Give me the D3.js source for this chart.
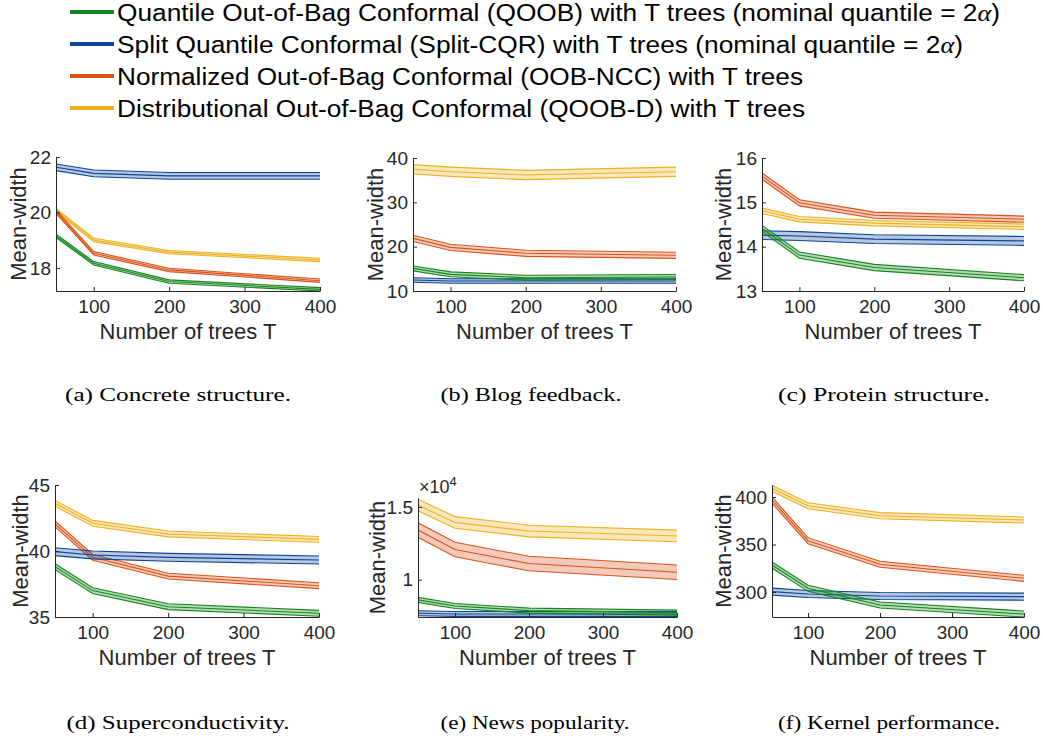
<!DOCTYPE html>
<html><head><meta charset="utf-8">
<script src="https://cdn.jsdelivr.net/npm/d3@7"></script>
<style>body{margin:0;background:#fff}svg{display:block}</style>
</head><body>
<svg id="chart" width="1043" height="736"></svg>
<script>
// ---------- data ----------
const trees = [50, 100, 200, 400];
const xTicks = [100, 200, 300, 400];
const methodColors = ["#14861c", "#0d4696", "#d95319", "#edb120"]; // QOOB, Split-CQR, OOB-NCC, QOOB-D
const legendLabels = [
  "Quantile Out-of-Bag Conformal (QOOB) with T trees (nominal quantile = 2",
  "Split Quantile Conformal (Split-CQR) with T trees (nominal quantile = 2",
  "Normalized Out-of-Bag Conformal (OOB-NCC) with T trees",
  "Distributional Out-of-Bag Conformal (QOOB-D) with T trees"
];
const legendHasAlpha = [true, true, false, false];
const captions = ["(a) Concrete structure.", "(b) Blog feedback.", "(c) Protein structure.",
                  "(d) Superconductivity.", "(e) News popularity.", "(f) Kernel performance."];

// mean widths per method: [QOOB, Split-CQR, OOB-NCC, QOOB-D]
const concreteMean = [[19.16, 18.17, 17.51, 17.23], [21.63, 21.41, 21.32, 21.32], [20.03, 18.53, 17.93, 17.54], [20.09, 19.01, 18.57, 18.29]];
const concreteHalf = [0.06, 0.12, 0.06, 0.06];
const blogMean = [[15.1, 13.76, 13.0, 13.16], [12.48, 12.26, 12.26, 12.26], [21.88, 19.85, 18.5, 18.05], [37.45, 36.9, 36.17, 36.9]];
const blogHalf = [0.55, 0.5, 0.7, 1.05];
const proteinMean = [[14.41, 13.81, 13.53, 13.3], [14.26, 14.24, 14.17, 14.13], [15.59, 14.99, 14.71, 14.62], [14.81, 14.62, 14.53, 14.45]];
const proteinHalf = [0.07, 0.1, 0.07, 0.06];
const superMean = [[38.81, 37.0, 35.78, 35.28], [39.95, 39.7, 39.52, 39.32], [42.05, 39.52, 38.1, 37.37], [43.61, 42.1, 41.29, 40.88]];
const superHalf = [0.22, 0.3, 0.22, 0.22];
const newsMean = [[8610, 8190, 7870, 7730], [7690, 7640, 7640, 7640], [13420, 12080, 11110, 10510], [15140, 13940, 13350, 13010]];
const newsHalf = [170, 170, 500, 400];
const kernelMean = [[328.4, 303.9, 286.3, 276.8], [300.4, 297.9, 295.8, 295.1], [396.8, 354.0, 329.2, 314.4], [409.1, 390.8, 380.3, 375.8]];
const kernelHalf = [3.2, 3.7, 3.2, 3.2];

const yTicksList = [[18, 20, 22], [10, 20, 30, 40], [13, 14, 15, 16], [35, 40, 45], [10000, 15000], [300, 350, 400]];
const yDomains = [[17.17, 22], [10, 40], [13, 16], [35, 45], [7430, 15625], [273.7, 412.6]];

// ---------- layout ----------
const panels = [
  {mean: concreteMean, half: concreteHalf, x0: 56, x1: 320, y0: 157, y1: 291, ylab: 38},
  {mean: blogMean, half: blogHalf, x0: 413, x1: 676, y0: 158, y1: 291, ylab: 38},
  {mean: proteinMean, half: proteinHalf, x0: 762, x1: 1024, y0: 158, y1: 291, ylab: 39},
  {mean: superMean, half: superHalf, x0: 55, x1: 319, y0: 485, y1: 617, ylab: 35},
  {mean: newsMean, half: newsHalf, x0: 418, x1: 677, y0: 498, y1: 617, ylab: 41, exp: true},
  {mean: kernelMean, half: kernelHalf, x0: 772, x1: 1024, y0: 485, y1: 617, ylab: 49}
];
const captionPos = [[178, 395, 226], [531, 395, 181], [884, 395, 212], [178, 723, 223], [535, 723, 189], [889, 723, 222]];
const drawOrder = [3, 2, 1, 0];

const svg = d3.select("#chart");
const AX = "#262626";
const sans = "'Liberation Sans', Arial, Helvetica, sans-serif";
const serif = "'Liberation Serif', 'DejaVu Serif', serif";

// ---------- legend ----------
const legendWidths = [883, 846, 686, 688];
legendLabels.forEach((lab, i) => {
  const cy = 12 + i * 32;
  svg.append("line").attr("x1", 70).attr("x2", 114).attr("y1", cy).attr("y2", cy)
    .attr("stroke", methodColors[i]).attr("stroke-width", 4);
  const t = svg.append("text").attr("x", 117).attr("y", cy + 9)
    .attr("font-family", sans).attr("font-size", 23).attr("fill", "#000")
    .attr("textLength", legendWidths[i]).attr("lengthAdjust", "spacingAndGlyphs");
  t.append("tspan").text(lab);
  if (legendHasAlpha[i]) {
    t.append("tspan").attr("font-family", serif).attr("font-style", "italic").text("\u03B1");
    t.append("tspan").text(")");
  }
});

// ---------- panels ----------
panels.forEach((p, pi) => {
  const x = d3.scaleLinear().domain([50, 400]).range([p.x0, p.x1]);
  const y = d3.scaleLinear().domain(yDomains[pi]).range([p.y1, p.y0]);
  const g = svg.append("g");
  const clipId = "clip" + pi;
  svg.append("clipPath").attr("id", clipId).append("rect")
    .attr("x", p.x0).attr("y", p.y0).attr("width", p.x1 - p.x0).attr("height", p.y1 - p.y0);
  const plot = g.append("g").attr("clip-path", `url(#${clipId})`);

  drawOrder.forEach(mi => {
    const vals = p.mean[mi], h = p.half[mi], col = methodColors[mi];
    const pts = trees.map((t, k) => ({t, v: vals[k]}));
    const area = d3.area().x(d => x(d.t)).y0(d => y(d.v - h)).y1(d => y(d.v + h));
    plot.append("path").datum(pts).attr("d", area).attr("fill", col).attr("fill-opacity", 0.3).attr("stroke", "none");
    [-h, 0, h].forEach(off => {
      const line = d3.line().x(d => x(d.t)).y(d => y(d.v + off));
      plot.append("path").datum(pts).attr("d", line).attr("fill", "none")
        .attr("stroke", col).attr("stroke-width", 1.1);
    });
  });

  // axes
  const xAxis = d3.axisBottom(x).tickValues(xTicks).tickSizeInner(-4).tickSizeOuter(0).tickPadding(9);
  const yFmt = p.exp ? (d => d3.format("~g")(d / 10000)) : d3.format("~g");
  const yAxis = d3.axisLeft(y).tickValues(yTicksList[pi]).tickSizeInner(-4).tickSizeOuter(0).tickPadding(5).tickFormat(yFmt);
  const gx = g.append("g").attr("transform", `translate(0,${p.y1})`).call(xAxis);
  const gy = g.append("g").attr("transform", `translate(${p.x0},0)`).call(yAxis);
  [gx, gy].forEach(a => {
    a.selectAll("path,line").attr("stroke", AX).attr("stroke-width", 1);
    a.selectAll("text").attr("font-family", sans).attr("font-size", 19).attr("fill", AX);
  });
  gx.selectAll("text").attr("dy", "0.71em");

  g.append("text").attr("x", (p.x0 + p.x1) / 2).attr("y", p.y1 + 48)
    .attr("text-anchor", "middle").attr("font-family", sans).attr("font-size", 22).attr("fill", AX)
    .text("Number of trees T");
  g.append("text").attr("transform", `translate(${p.x0 - p.ylab},${(p.y0 + p.y1) / 2}) rotate(-90)`)
    .attr("text-anchor", "middle").attr("dominant-baseline", "central")
    .attr("font-family", sans).attr("font-size", 22).attr("fill", AX).text("Mean-width");

  if (p.exp) {
    const e = g.append("text").attr("x", p.x0 + 1).attr("y", p.y0 - 5)
      .attr("font-family", sans).attr("font-size", 18).attr("fill", AX);
    e.append("tspan").text("\u00D710");
    e.append("tspan").attr("dy", -7).attr("font-size", 13).text("4");
  }

  const c = captionPos[pi];
  svg.append("text").attr("x", c[0]).attr("y", c[1] + 6).attr("text-anchor", "middle")
    .attr("font-family", serif).attr("font-size", 19).attr("fill", "#000")
    .attr("textLength", c[2]).attr("lengthAdjust", "spacingAndGlyphs").text(captions[pi]);
});
</script>
</body></html>
